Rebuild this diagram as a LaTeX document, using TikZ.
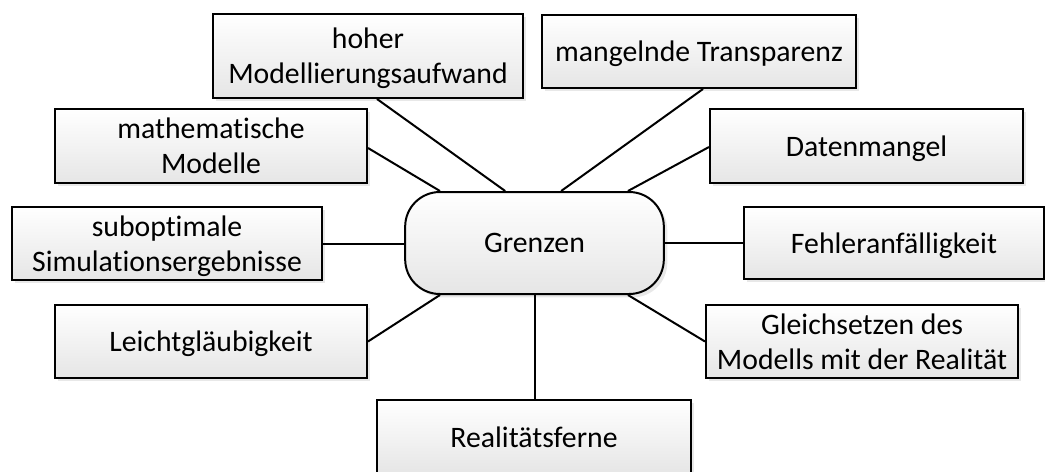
\documentclass[tikz,border=0pt]{standalone}
\usepackage{fontspec}
\setmainfont{Carlito}[Ligatures=NoCommon]
\usetikzlibrary{shadows}

\tikzset{
  txt/.style={font=\fontsize{22.3}{26.4}\selectfont, align=center, inner sep=0pt, text depth=0pt},
  shade box/.style={draw=black, line width=1.5pt, top color=white, bottom color=black!10,
    drop shadow={shadow xshift=2.6pt, shadow yshift=-2.6pt, fill=black!18}},
  topic/.style={txt, shade box, minimum width=#1},
  hub/.style={txt, shade box, rounded corners=26pt, minimum width=194pt, minimum height=76.5pt},
  link/.style={line width=1.5pt, draw=black},
}

\begin{document}
\begin{tikzpicture}[x=0.75pt, y=-0.75pt]
  \clip (0,0) rectangle (1045,471);

  % central node
  \node[hub] (grenzen) at (534.5,243) {Grenzen};

  % surrounding topics
  \node[topic=232.5pt, minimum height=63pt]   (aufwand)  at (368,56)    {hoher\\Modellierungsaufwand};
  \node[topic=235.5pt, minimum height=54.75pt] (transp)   at (699,51.5)  {mangelnde Transparenz};
  \node[topic=234pt,   minimum height=55.5pt]  (mathe)    at (211,146)   {mathematische\\Modelle};
  \node[topic=234.75pt,minimum height=55.5pt]  (daten)    at (866.5,146) {Datenmangel};
  \node[topic=232.5pt, minimum height=54.75pt] (subopt)   at (167,243.5) {suboptimale\\Simulationsergebnisse};
  \node[topic=225pt,   minimum height=54pt]    (fehler)   at (894,243)   {Fehleranfälligkeit};
  \node[topic=234pt,   minimum height=54.75pt] (leicht)   at (211,341.5) {Leichtgläubigkeit};
  \node[topic=234pt,   minimum height=54.75pt] (gleich)   at (862,341.5) {Gleichsetzen des\\Modells mit der Realität};
  \node[topic=235.5pt, minimum height=56pt]    (realfern) at (534,437)   {Realitätsferne};

  % connectors from the hub
  \draw[link] ([xshift=6.75pt]aufwand.south) -- ([xshift=-22pt]grenzen.north);
  \draw[link] ([xshift=3pt]transp.south)     -- ([xshift=20pt]grenzen.north);
  \draw[link] ([yshift=-1.5pt]mathe.east)    -- ([xshift=-70.9pt]grenzen.north);
  \draw[link] ([yshift=-0.75pt]daten.west)   -- ([xshift=70.1pt]grenzen.north);
  \draw[link] (subopt.east) -- (subopt.east -| grenzen.west);
  \draw[link] (grenzen.east) -- (grenzen.east -| fehler.west);
  \draw[link] (leicht.east) -- ([xshift=-70.9pt]grenzen.south);
  \draw[link] (gleich.west) -- ([xshift=70.1pt]grenzen.south);
  \draw[link] (grenzen.south) -- (grenzen.south |- realfern.north);
\end{tikzpicture}
\end{document}
